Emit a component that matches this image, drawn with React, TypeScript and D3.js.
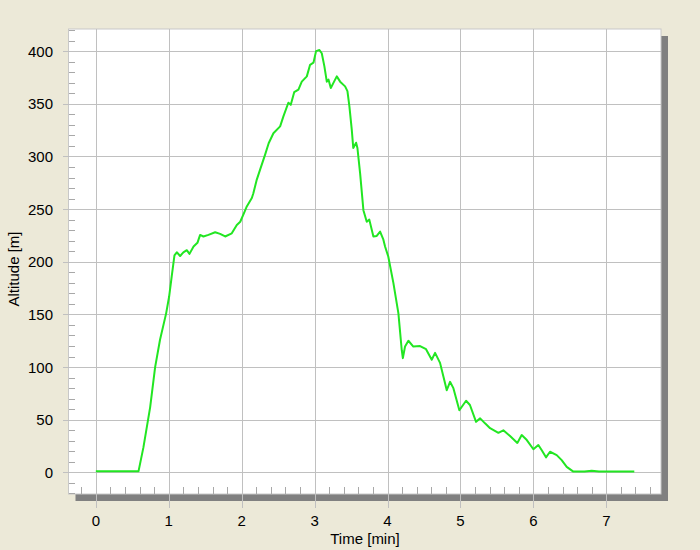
import * as d3 from "d3";
import { useEffect, useRef } from "react";

const timeMin = [
  0.0, 0.3, 0.585, 0.653, 0.745, 0.813, 0.88, 0.964, 1.005, 1.04, 1.078, 1.11, 1.156, 1.2, 1.247,
  1.284, 1.34, 1.393, 1.43, 1.475, 1.544, 1.636, 1.704, 1.773, 1.864, 1.933, 1.98, 2.03, 2.07,
  2.139, 2.16, 2.207, 2.25, 2.32, 2.37, 2.435, 2.527, 2.572, 2.64, 2.673, 2.72, 2.778, 2.824,
  2.893, 2.938, 2.984, 3.02, 3.066, 3.098, 3.134, 3.167, 3.19, 3.222, 3.267, 3.304, 3.35, 3.418,
  3.45, 3.477, 3.51, 3.53, 3.569, 3.587, 3.624, 3.669, 3.715, 3.75, 3.806, 3.852, 3.898, 3.943,
  3.966, 4.01, 4.08, 4.149, 4.195, 4.21, 4.24, 4.286, 4.354, 4.446, 4.528, 4.606, 4.652, 4.72,
  4.766, 4.812, 4.857, 4.903, 4.985, 5.077, 5.13, 5.214, 5.27, 5.337, 5.406, 5.52, 5.588, 5.68,
  5.78, 5.84, 5.91, 6.0, 6.068, 6.115, 6.173, 6.228, 6.32, 6.388, 6.457, 6.548, 6.7, 6.8, 6.9,
  7.384,
];

const altitudeM = [
  1, 1, 1, 24, 62, 100, 126, 151, 167, 186, 206, 209, 205.5, 209, 211,
  207.5, 214.5, 218, 225.5, 224, 225.5, 228, 226.5, 224, 227, 235, 238, 246, 252.5,
  260.5, 265, 278, 287, 301.5, 312.5, 322, 328.5, 338, 351, 349, 361, 363.5, 371,
  376, 387, 389, 400, 401, 398, 385.5, 371, 373, 365, 371, 376, 371, 366.5,
  362, 347.5, 325, 308, 313, 308, 284, 249, 238, 240, 224, 224.5, 228.7, 221,
  214.5, 205, 180, 151, 116, 108.5, 119.5, 125, 119.5, 120, 117, 107, 113.5, 104,
  91, 78, 86, 80, 59, 68, 64, 48, 51.3, 46.6, 42, 37.6, 40, 34.5,
  28, 35.5, 30.7, 22, 26, 21, 14.3, 19.6, 16.4, 11.7, 5.3, 0.8, 0.8, 1.5, 0.8,
  0.8,
];

const xTicks = [0, 1, 2, 3, 4, 5, 6, 7];
const yTicks = [0, 50, 100, 150, 200, 250, 300, 350, 400];

const AltitudeChart = () => {
  const ref = useRef<SVGSVGElement | null>(null);

  useEffect(() => {
    if (!ref.current) return;
    const svg = d3.select(ref.current);
    svg.selectAll("*").remove();

    const left = 68.5, right = 661, top = 29, bottom = 494;
    const font = "'Liberation Sans', Arial, sans-serif";
    const fs = 15;

    const x = d3.scaleLinear().domain([-0.375, 7.75]).range([left, right]);
    const y = d3.scaleLinear().domain([-20.5, 421]).range([bottom, top]);

    svg.append("rect").attr("width", 700).attr("height", 550).attr("fill", "#ece9d8");

    // drop shadow + plot area
    svg
      .append("rect")
      .attr("x", left + 7)
      .attr("y", top + 7)
      .attr("width", right - left)
      .attr("height", bottom - top)
      .attr("fill", "#808080");
    svg
      .append("rect")
      .attr("x", left)
      .attr("y", top)
      .attr("width", right - left)
      .attr("height", bottom - top)
      .attr("fill", "#fff")
      .attr("stroke", "#c8c8c8");

    const grid = svg.append("g").attr("stroke", "#c0c0c0").attr("shape-rendering", "crispEdges");

    grid
      .selectAll("line.gx")
      .data(xTicks)
      .join("line")
      .attr("x1", (d) => Math.round(x(d)) + 0.5)
      .attr("x2", (d) => Math.round(x(d)) + 0.5)
      .attr("y1", top)
      .attr("y2", bottom + 14);

    grid
      .selectAll("line.gy")
      .data(yTicks)
      .join("line")
      .attr("y1", (d) => Math.round(y(d)) + 0.5)
      .attr("y2", (d) => Math.round(y(d)) + 0.5)
      .attr("x1", left - 6)
      .attr("x2", right);

    // minor ticks
    const minor = svg.append("g").attr("stroke", "#a8a8a8").attr("shape-rendering", "crispEdges");
    const xMinor = d3.range(-1, 39).map((i) => i * 0.2).filter((v) => Math.abs(v - Math.round(v)) > 1e-6);
    minor
      .selectAll("line.mx")
      .data(xMinor)
      .join("line")
      .attr("x1", (d) => Math.round(x(d)) + 0.5)
      .attr("x2", (d) => Math.round(x(d)) + 0.5)
      .attr("y1", bottom - 7)
      .attr("y2", bottom);

    const yMinor = d3.range(-2, 43).map((i) => i * 10).filter((v) => v % 50 !== 0);
    minor
      .selectAll("line.my")
      .data(yMinor)
      .join("line")
      .attr("y1", (d) => Math.round(y(d)) + 0.5)
      .attr("y2", (d) => Math.round(y(d)) + 0.5)
      .attr("x1", left)
      .attr("x2", left + 6);

    // line
    const pts = timeMin.map((t, i) => [t, altitudeM[i]] as [number, number]);
    svg
      .append("path")
      .datum(pts)
      .attr("fill", "none")
      .attr("stroke", "#22e622")
      .attr("stroke-width", 2)
      .attr("stroke-linejoin", "round")
      .attr("d", d3.line<[number, number]>().x((d) => x(d[0])).y((d) => y(d[1])));

    // labels
    svg
      .selectAll("text.xl")
      .data(xTicks)
      .join("text")
      .attr("x", (d) => x(d))
      .attr("y", 526)
      .attr("text-anchor", "middle")
      .attr("font-family", font)
      .attr("font-size", fs)
      .text((d) => d);

    svg
      .selectAll("text.yl")
      .data(yTicks)
      .join("text")
      .attr("x", 53)
      .attr("y", (d) => y(d) + 5.5)
      .attr("text-anchor", "end")
      .attr("font-family", font)
      .attr("font-size", fs)
      .text((d) => d);

    svg
      .append("text")
      .attr("x", 365)
      .attr("y", 544)
      .attr("text-anchor", "middle")
      .attr("font-family", font)
      .attr("font-size", fs)
      .text("Time [min]");

    svg
      .append("text")
      .attr("transform", "translate(19,269) rotate(-90)")
      .attr("text-anchor", "middle")
      .attr("font-family", font)
      .attr("font-size", fs)
      .text("Altitude [m]");
  }, []);

  return <svg ref={ref} width={700} height={550} style={{ position: "absolute", left: 0, top: 0 }} />;
};

export default function App() {
  return <AltitudeChart />;
}
